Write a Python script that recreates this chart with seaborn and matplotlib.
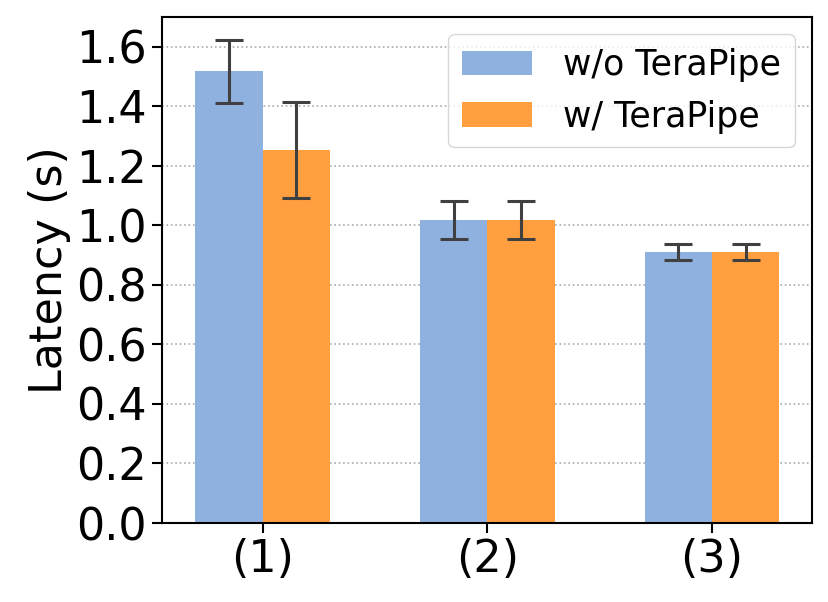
import pandas as pd
import seaborn as sns
import matplotlib.pyplot as plt

# values
settings = ['(1)', '(2)', '(3)']
without_tp = [1.517, 1.017, 0.911]
without_tp_err = [0.107, 0.064, 0.028]
with_tp = [1.254, 1.017, 0.911]
with_tp_err = [0.161, 0.064, 0.028]
methods = ['w/o TeraPipe', 'w/ TeraPipe']
colors = ['#8FB1DF', '#FF9F40']

df = pd.DataFrame({
    'setting': settings * 2,
    'latency': without_tp + with_tp,
    'err': without_tp_err + with_tp_err,
    'method': [methods[0]] * 3 + [methods[1]] * 3,
})

sns.set_style('ticks')
plt.rcParams['font.family'] = ['DejaVu Sans']
plt.rcParams['text.color'] = 'black'
plt.rcParams['axes.labelcolor'] = 'black'
plt.rcParams['xtick.color'] = 'black'
plt.rcParams['ytick.color'] = 'black'

fig = plt.figure(figsize=(8.29, 6.02), dpi=100)
ax = fig.add_axes([0.195, 0.1312, 0.7845, 0.8406])

sns.barplot(data=df, x='setting', y='latency', hue='method', palette=colors,
            width=0.6, errorbar=None, saturation=1, linewidth=0, ax=ax, zorder=2)

# error bars on top of each bar
for bars, errs in zip(ax.containers, [without_tp_err, with_tp_err]):
    for bar, e in zip(bars, errs):
        cx = bar.get_x() + bar.get_width() / 2
        ax.errorbar(cx, bar.get_height(), yerr=e, color='#404040',
                    capsize=10, elinewidth=2.2, capthick=2.2, zorder=3)

ax.set_xlim(-0.45, 2.445)
ax.set_ylim(0, 1.7)
ax.set_yticks([0.0, 0.2, 0.4, 0.6, 0.8, 1.0, 1.2, 1.4, 1.6])
ax.set_yticklabels([f'{v:.1f}' for v in ax.get_yticks()])
ax.yaxis.grid(True, linestyle=':', color='#aaaaaa', linewidth=1.2, zorder=0)
ax.set_axisbelow(True)
ax.set_xlabel('')
ax.set_ylabel('Latency (s)', fontsize=32, color='black')
ax.tick_params(labelsize=32, length=7, width=1.5, direction='out', colors='black')
for sp in ax.spines.values():
    sp.set_visible(True)
    sp.set_linewidth(1.5)
    sp.set_color('black')

leg = ax.legend(loc='upper right', fontsize=25, handlelength=2.0, handletextpad=0.9,
                frameon=True, edgecolor='#cccccc', borderaxespad=0.5)
for t in leg.get_texts():
    t.set_color('black')

fig.savefig('out.png', dpi=100)
